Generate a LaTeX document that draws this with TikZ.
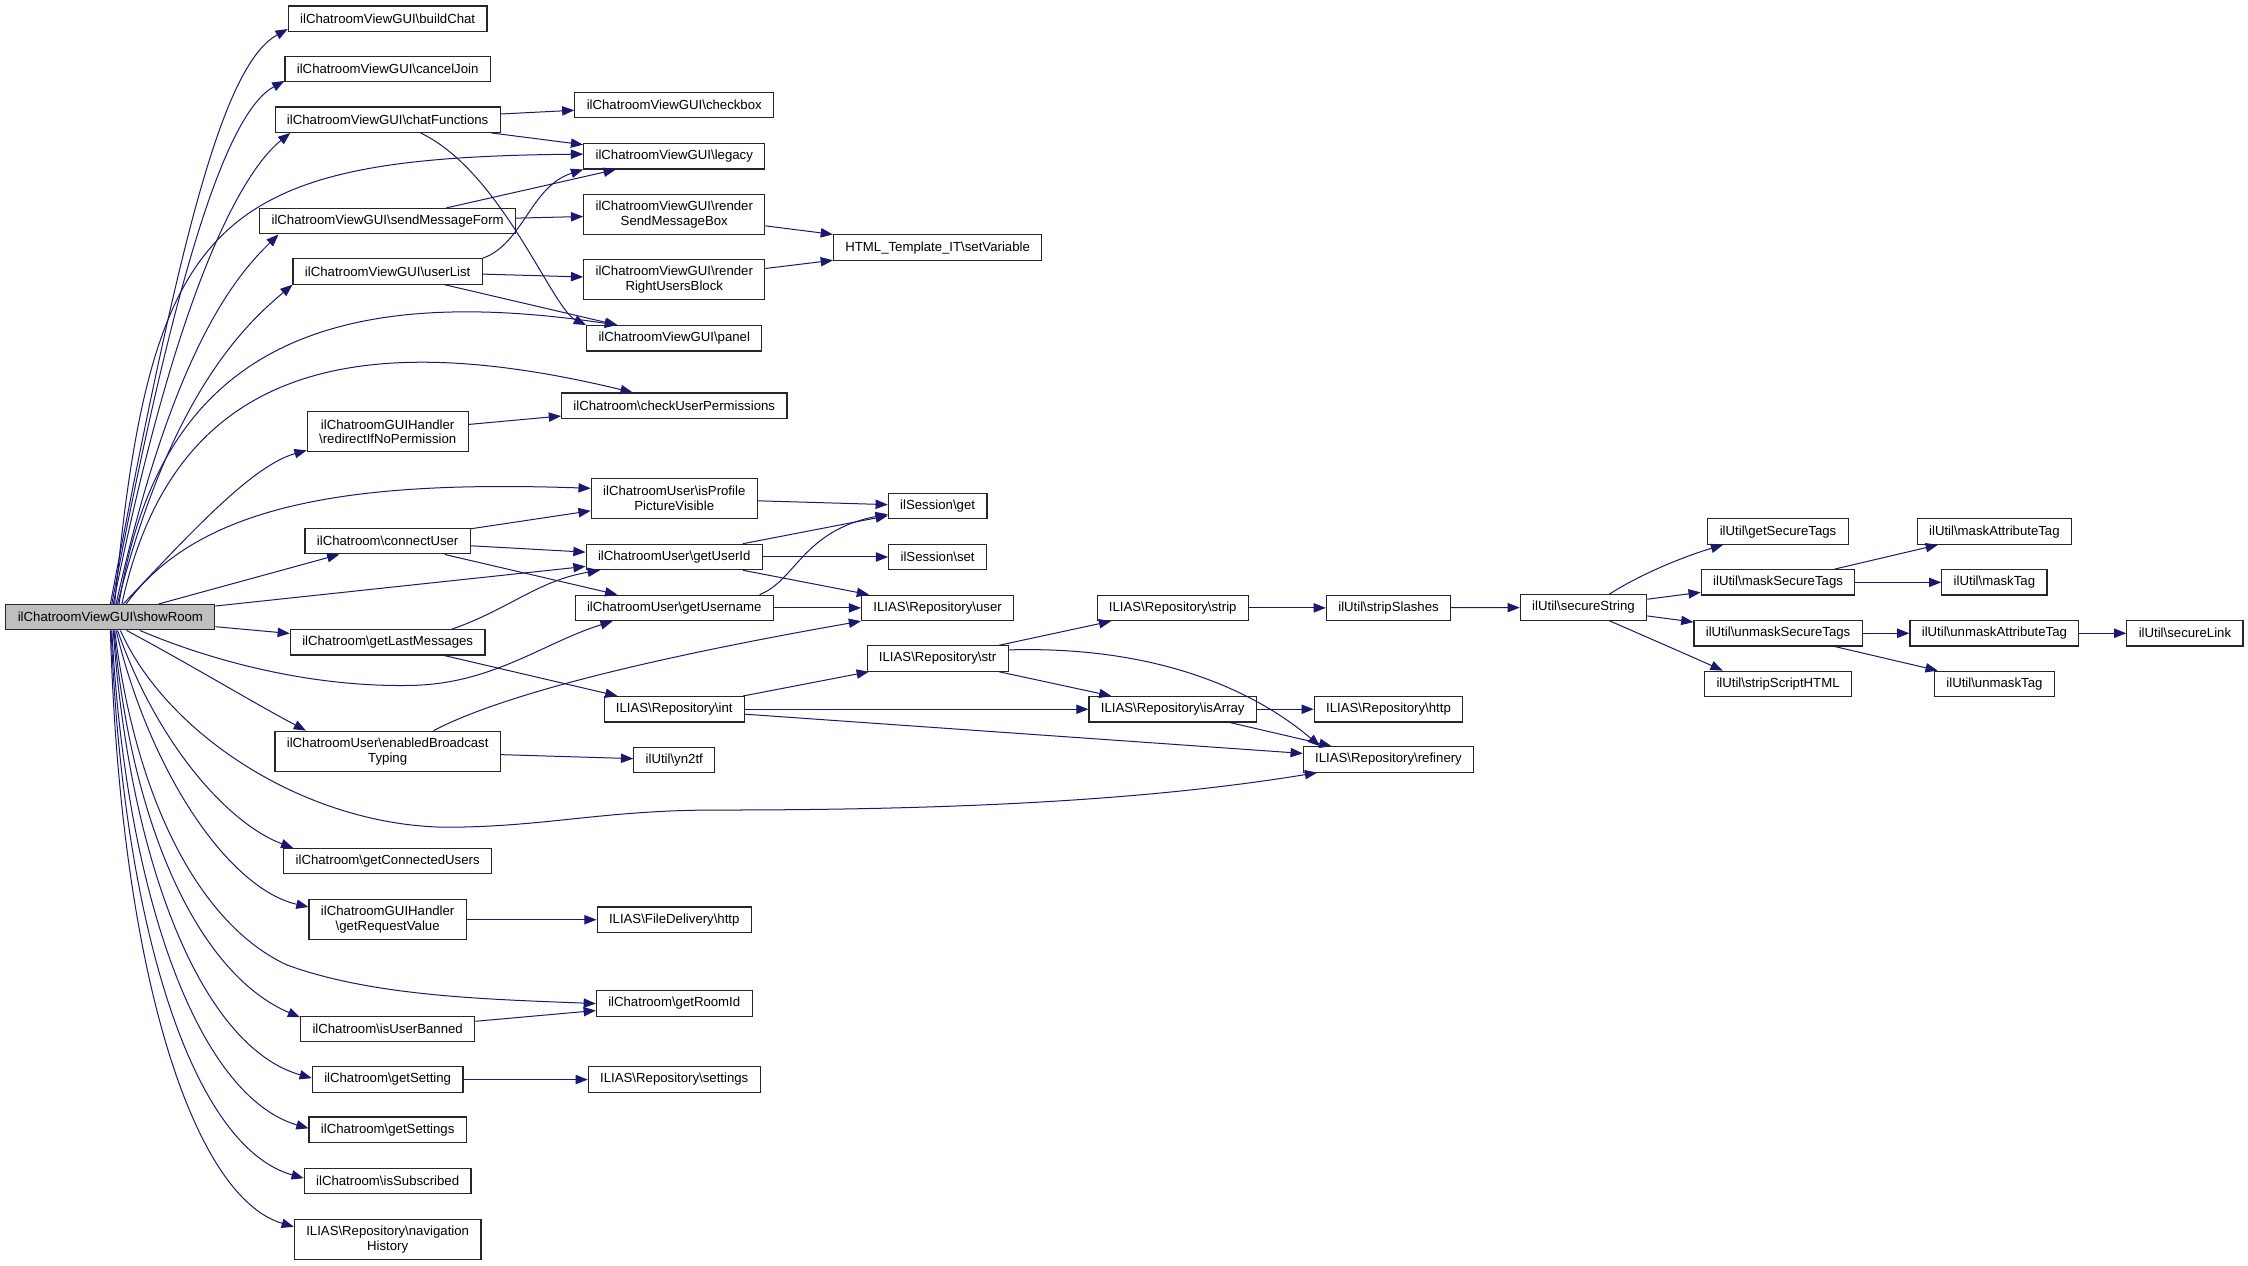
\documentclass[tikz,border=0pt]{standalone}
\usepackage[svgnames]{xcolor}
\usepackage{fontspec}
\setmainfont{Liberation Sans}
\usepackage{tikz}
\usetikzlibrary{arrows.meta, positioning}
\newcommand{\bsl}{\textbackslash}

\begin{document}
\begin{tikzpicture}[
  x=1pt, y=-1pt,
  fn/.style={rectangle, draw=black!85, fill=white, line width=0.8pt, inner xsep=8.3pt, inner ysep=2pt, minimum height=17.7pt, font=\fontsize{9.2}{10.3}\selectfont},
  fntwo/.style={fn, align=center, minimum height=28pt},
  root/.style={fn, fill=gray!50},
  call/.style={-{Triangle[length=8.5pt,width=6.5pt]}, draw=MidnightBlue, line width=0.7pt}
]

\fill[white] (0,0) rectangle (1568,883);
\useasboundingbox (0,0) rectangle (1568,883);

% callers column
\node[root] (showRoom) at (77,430.5) {ilChatroomViewGUI\bsl{}showRoom};
\node[fn] (buildChat) at (270.4,13) {ilChatroomViewGUI\bsl{}buildChat};
\node[fn] (cancelJoin) at (270.4,48.2) {ilChatroomViewGUI\bsl{}cancelJoin};
\node[fn] (chatFunctions) at (270.4,83.5) {ilChatroomViewGUI\bsl{}chatFunctions};
\node[fn] (sendMessageForm) at (270.4,154.3) {ilChatroomViewGUI\bsl{}sendMessageForm};
\node[fn] (userList) at (270.4,189.3) {ilChatroomViewGUI\bsl{}userList};
\node[fntwo] (redirectIfNoPermission) at (270.4,301.2) {ilChatroomGUIHandler\\\bsl{}redirectIfNoPermission};
\node[fn] (connectUser) at (270.4,377.5) {ilChatroom\bsl{}connectUser};
\node[fn] (getLastMessages) at (270.4,448) {ilChatroom\bsl{}getLastMessages};
\node[fntwo] (enabledBroadcastTyping) at (270.4,524) {ilChatroomUser\bsl{}enabledBroadcast\\Typing};
\node[fn] (getConnectedUsers) at (270.4,600.7) {ilChatroom\bsl{}getConnectedUsers};
\node[fntwo] (getRequestValue) at (270.4,641.5) {ilChatroomGUIHandler\\\bsl{}getRequestValue};
\node[fn] (isUserBanned) at (270.4,717.8) {ilChatroom\bsl{}isUserBanned};
\node[fn] (getSetting) at (270.4,753) {ilChatroom\bsl{}getSetting};
\node[fn] (getSettings) at (270.4,788) {ilChatroom\bsl{}getSettings};
\node[fn] (isSubscribed) at (270.4,823.8) {ilChatroom\bsl{}isSubscribed};
\node[fntwo] (navigationHistory) at (270.4,864.6) {ILIAS\bsl{}Repository\bsl{}navigation\\History};

\node[fn] (checkbox) at (470.3,73.4) {ilChatroomViewGUI\bsl{}checkbox};
\node[fn] (legacy) at (470.3,109) {ilChatroomViewGUI\bsl{}legacy};
\node[fntwo] (renderSendMessageBox) at (470.3,149.5) {ilChatroomViewGUI\bsl{}render\\SendMessageBox};
\node[fntwo] (renderRightUsersBlock) at (470.3,195) {ilChatroomViewGUI\bsl{}render\\RightUsersBlock};
\node[fn] (panel) at (470.3,236) {ilChatroomViewGUI\bsl{}panel};
\node[fn] (checkUserPermissions) at (470.3,283) {ilChatroom\bsl{}checkUserPermissions};
\node[fntwo] (isProfilePictureVisible) at (470.3,347.6) {ilChatroomUser\bsl{}isProfile\\PictureVisible};
\node[fn] (getUserId) at (470.3,388.5) {ilChatroomUser\bsl{}getUserId};
\node[fn] (getUsername) at (470.3,424) {ilChatroomUser\bsl{}getUsername};
\node[fn] (repoInt) at (470.3,494.7) {ILIAS\bsl{}Repository\bsl{}int};
\node[fn] (yn2tf) at (470.3,530) {ilUtil\bsl{}yn2tf};
\node[fn] (fileDeliveryHttp) at (470.3,641.5) {ILIAS\bsl{}FileDelivery\bsl{}http};
\node[fn] (getRoomId) at (470.3,700) {ilChatroom\bsl{}getRoomId};
\node[fn] (repoSettings) at (470.3,753) {ILIAS\bsl{}Repository\bsl{}settings};

\node[fn] (setVariable) at (654,172.7) {HTML\_Template\_IT\bsl{}setVariable};
\node[fn] (sessionGet) at (654,353) {ilSession\bsl{}get};
\node[fn] (sessionSet) at (654,388.5) {ilSession\bsl{}set};
\node[fn] (repoUser) at (654,424) {ILIAS\bsl{}Repository\bsl{}user};
\node[fn] (repoStr) at (654,459.3) {ILIAS\bsl{}Repository\bsl{}str};

\node[fn] (repoStrip) at (818,424) {ILIAS\bsl{}Repository\bsl{}strip};
\node[fn] (repoIsArray) at (818,494.7) {ILIAS\bsl{}Repository\bsl{}isArray};
\node[fn] (stripSlashes) at (968.5,424) {ilUtil\bsl{}stripSlashes};
\node[fn] (repoHttp) at (968.5,494.7) {ILIAS\bsl{}Repository\bsl{}http};
\node[fn] (repoRefinery) at (968.5,529.7) {ILIAS\bsl{}Repository\bsl{}refinery};

\node[fn] (secureString) at (1104.5,423.7) {ilUtil\bsl{}secureString};
\node[fn] (getSecureTags) at (1240.2,370.8) {ilUtil\bsl{}getSecureTags};
\node[fn] (maskSecureTags) at (1240.2,406.2) {ilUtil\bsl{}maskSecureTags};
\node[fn] (unmaskSecureTags) at (1240.2,441.7) {ilUtil\bsl{}unmaskSecureTags};
\node[fn] (stripScriptHTML) at (1240.2,477) {ilUtil\bsl{}stripScriptHTML};
\node[fn] (maskAttributeTag) at (1391.1,370.8) {ilUtil\bsl{}maskAttributeTag};
\node[fn] (maskTag) at (1391.1,406.2) {ilUtil\bsl{}maskTag};
\node[fn] (unmaskAttributeTag) at (1391.1,441.7) {ilUtil\bsl{}unmaskAttributeTag};
\node[fn] (unmaskTag) at (1391.1,477) {ilUtil\bsl{}unmaskTag};
\node[fn] (secureLink) at (1524,441.7) {ilUtil\bsl{}secureLink};

% calls out of showRoom, upper half
\draw[call] (showRoom.north) .. controls (126,162) and (156,45) .. ([yshift=2pt]buildChat.south west);
\draw[call] ([xshift=1pt]showRoom.north) .. controls (123.6,182) and (159,78) .. ([yshift=1pt]cancelJoin.south west);
\draw[call] ([xshift=2pt]showRoom.north) .. controls (123,202) and (168.5,120) .. ([xshift=11pt]chatFunctions.south west);
\draw[call] ([xshift=3pt]showRoom.north) .. controls (105,150) and (150,110) .. ([yshift=1.5pt]legacy.west);
\draw[call] ([xshift=4pt]showRoom.north) .. controls (120.6,242) and (165.7,191.4) .. ([xshift=13.5pt]sendMessageForm.south west);
\draw[call] ([xshift=5pt]showRoom.north) .. controls (119.5,272) and (173.7,224.3) .. (userList.south west);
\draw[call] ([xshift=6pt]showRoom.north) .. controls (110,250) and (220,195) .. ([xshift=-40pt]panel.north);
\draw[call] ([xshift=8pt]showRoom.north) .. controls (120,260) and (240,225) .. ([xshift=-29pt]checkUserPermissions.north);
\draw[call] ([xshift=9pt]showRoom.north) .. controls (130,375) and (175,325) .. ([yshift=1.5pt]redirectIfNoPermission.south west);
\draw[call] ([xshift=11pt]showRoom.north) .. controls (140,350) and (250,335) .. ([yshift=7pt]isProfilePictureVisible.west);
\draw[call] (showRoom) -- (connectUser);
\draw[call] (showRoom) -- (getUserId);
\draw[call] (showRoom) -- (getLastMessages);

% calls out of showRoom, lower half
\draw[call] ([xshift=20.6pt]showRoom.south) .. controls (150,462) and (220,480) .. (290,478) .. controls (345,476) and (380,448) .. ([xshift=-43pt]getUsername.south);
\draw[call] ([xshift=11.3pt]showRoom.south) .. controls (130,462) and (180,492) .. ([xshift=-57pt]enabledBroadcastTyping.north);
\draw[call] ([xshift=7pt]showRoom.south) .. controls (115,510) and (210,575) .. (310,577) .. controls (380,577) and (420,565) .. (500,565) .. controls (700,565) and (820,555) .. ([xshift=10pt]repoRefinery.south west);
\draw[call] ([xshift=5pt]showRoom.south) .. controls (110,520) and (160,575) .. ([xshift=7pt]getConnectedUsers.north west);
\draw[call] ([xshift=4pt]showRoom.south) .. controls (105,540) and (160,620) .. ([yshift=-5.5pt]getRequestValue.north west);
\draw[call] ([xshift=3pt]showRoom.south) .. controls (95,560) and (140,645) .. (200,673) .. controls (260,695) and (340,697) .. (getRoomId.west);
\draw[call] ([xshift=2.5pt]showRoom.south) .. controls (92,580) and (140,680) .. ([yshift=-1pt]isUserBanned.north west);
\draw[call] ([xshift=2pt]showRoom.south) .. controls (90,600) and (140,730) .. ([yshift=1pt]getSetting.west);
\draw[call] ([xshift=1pt]showRoom.south) .. controls (88,630) and (140,765) .. ([yshift=1pt]getSettings.west);
\draw[call] ([xshift=0.5pt]showRoom.south) .. controls (86,650) and (135,800) .. ([yshift=2pt]isSubscribed.west);
\draw[call] (showRoom.south) .. controls (84,680) and (135,835) .. ([yshift=-5.5pt]navigationHistory.north west);

% second level
\draw[call] (chatFunctions) -- (checkbox);
\draw[call] (chatFunctions) -- (legacy);
\draw[call] ([xshift=23pt]chatFunctions.south) .. controls (350,120) and (385,215) .. (panel.north west);
\draw[call] (sendMessageForm) -- (legacy);
\draw[call] (sendMessageForm) -- (renderSendMessageBox);
\draw[call] (userList.north east) .. controls (365,170) and (370,130) .. (legacy.south west);
\draw[call] (userList) -- (renderRightUsersBlock);
\draw[call] (userList) -- (panel);
\draw[call] (renderSendMessageBox) -- (setVariable);
\draw[call] (renderRightUsersBlock) -- (setVariable);
\draw[call] (redirectIfNoPermission) -- (checkUserPermissions);
\draw[call] (connectUser) -- (isProfilePictureVisible);
\draw[call] (connectUser) -- (getUserId);
\draw[call] (connectUser) -- (getUsername);
\draw[call] ([xshift=45pt]getLastMessages.north) .. controls (355,425) and (375,405) .. ([xshift=10pt]getUserId.south west);
\draw[call] (getLastMessages) -- (repoInt);
\draw[call] ([xshift=32pt]enabledBroadcastTyping.north) .. controls (340,490) and (420,465) .. (repoUser.south west);
\draw[call] (enabledBroadcastTyping) -- (yn2tf);
\draw[call] (getRequestValue) -- (fileDeliveryHttp);
\draw[call] (isUserBanned) -- (getRoomId);
\draw[call] (getSetting) -- (repoSettings);

% third level and deeper
\draw[call] (isProfilePictureVisible) -- (sessionGet);
\draw[call] (getUserId) -- (sessionGet);
\draw[call] (getUserId) -- (sessionSet);
\draw[call] (getUserId) -- (repoUser);
\draw[call] ([xshift=-10pt]getUsername.north east) .. controls (555,405) and (560,370) .. ([yshift=-5.7pt]sessionGet.west);
\draw[call] (getUsername) -- (repoUser);
\draw[call] (repoInt) -- (repoStr);
\draw[call] (repoInt) -- (repoIsArray);
\draw[call] (repoInt) -- (repoRefinery);
\draw[call] (repoStr) -- (repoStrip);
\draw[call] (repoStr) -- (repoIsArray);
\draw[call] ([yshift=6pt]repoStr.east) .. controls (820,450) and (885,490) .. ([xshift=12pt]repoRefinery.north west);
\draw[call] (repoIsArray) -- (repoHttp);
\draw[call] (repoIsArray) -- (repoRefinery);
\draw[call] (repoStrip) -- (stripSlashes);
\draw[call] (stripSlashes) -- (secureString);
\draw[call] ([xshift=18pt]secureString.north) .. controls (1145,400) and (1175,388) .. ([xshift=11pt]getSecureTags.south west);
\draw[call] (secureString) -- (maskSecureTags);
\draw[call] (secureString) -- (unmaskSecureTags);
\draw[call] ([xshift=18pt]secureString.south) .. controls (1150,445) and (1180,458) .. ([xshift=13pt]stripScriptHTML.north west);
\draw[call] (maskSecureTags) -- (maskAttributeTag);
\draw[call] (maskSecureTags) -- (maskTag);
\draw[call] (unmaskSecureTags) -- (unmaskAttributeTag);
\draw[call] (unmaskSecureTags) -- (unmaskTag);
\draw[call] (unmaskAttributeTag) -- (secureLink);

\end{tikzpicture}
\end{document}
